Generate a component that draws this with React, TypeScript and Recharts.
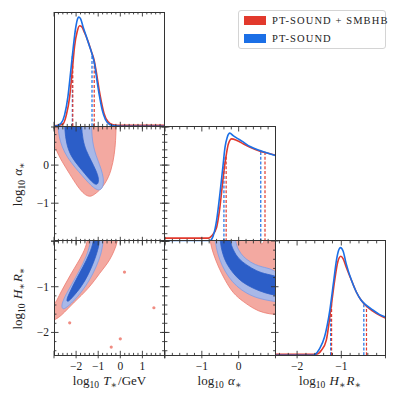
import React from 'react';
import { ComposedChart, XAxis, YAxis, Line, Scatter, ReferenceLine } from 'recharts';

type Pt = [number, number];

// axis ranges and labelled ticks
const tRange = [-3, 2];
const aRange = [-2, 1];
const hRange = [-2.5, 0];
const densRange = [0, 1];
const tLabels = [-2, -1, 0, 1];
const aLabels = [-1, 0];
const hLabels = [-2, -1];

// 1D marginals (value, density as fraction of panel height)
const tBlue: Pt[] = [[-3, 0], [-2.85, 0.005], [-2.67, 0.028], [-2.52, 0.1], [-2.37, 0.26], [-2.25, 0.47], [-2.14, 0.67], [-2.02, 0.86], [-1.92, 0.947], [-1.87, 0.956], [-1.79, 0.938], [-1.69, 0.874], [-1.54, 0.787], [-1.39, 0.699], [-1.27, 0.626], [-1.16, 0.539], [-1.06, 0.407], [-0.94, 0.261], [-0.82, 0.144], [-0.67, 0.057], [-0.48, 0.016], [-0.26, 0.004], [0, 0], [2, 0]];
const tRed: Pt[] = [[-3, 0.004], [-2.8, 0.008], [-2.59, 0.022], [-2.44, 0.1], [-2.29, 0.26], [-2.17, 0.495], [-2.07, 0.7], [-1.95, 0.83], [-1.84, 0.88], [-1.76, 0.874], [-1.61, 0.816], [-1.46, 0.743], [-1.31, 0.655], [-1.19, 0.582], [-1.09, 0.48], [-0.97, 0.334], [-0.86, 0.217], [-0.74, 0.115], [-0.56, 0.042], [-0.33, 0.014], [0, 0.008], [1, 0.008], [2, 0.008]];
const tBlueQ = [-2.17, -1.28];
const tRedQ = [-2.15, -1.18];

const aBlue: Pt[] = [[-2, 0], [-0.8, 0], [-0.73, 0.02], [-0.69, 0.048], [-0.6, 0.18], [-0.51, 0.414], [-0.43, 0.648], [-0.37, 0.823], [-0.31, 0.911], [-0.24, 0.946], [-0.15, 0.925], [-0.01, 0.896], [0.13, 0.867], [0.31, 0.829], [0.58, 0.794], [0.8, 0.77], [1, 0.75]];
const aRed: Pt[] = [[-2, 0.028], [-0.82, 0.028], [-0.73, 0.048], [-0.6, 0.121], [-0.51, 0.297], [-0.42, 0.56], [-0.34, 0.75], [-0.28, 0.852], [-0.19, 0.896], [-0.05, 0.882], [0.13, 0.852], [0.31, 0.823], [0.58, 0.788], [0.8, 0.77], [1, 0.753]];
const aBlueQ = [-0.4, 0.6];
const aRedQ = [-0.34, 0.715];

const hBlue: Pt[] = [[-2.5, 0], [-1.64, 0], [-1.6, 0.005], [-1.49, 0.058], [-1.38, 0.16], [-1.26, 0.394], [-1.17, 0.656], [-1.11, 0.831], [-1.06, 0.919], [-1.02, 0.942], [-0.96, 0.913], [-0.89, 0.802], [-0.77, 0.656], [-0.66, 0.554], [-0.55, 0.481], [-0.43, 0.437], [-0.28, 0.394], [-0.13, 0.356], [0, 0.335]];
const hRed: Pt[] = [[-2.5, 0.009], [-1.57, 0.009], [-1.45, 0.044], [-1.34, 0.131], [-1.24, 0.394], [-1.15, 0.656], [-1.08, 0.817], [-1.01, 0.866], [-0.96, 0.846], [-0.89, 0.773], [-0.77, 0.656], [-0.66, 0.554], [-0.55, 0.481], [-0.43, 0.429], [-0.28, 0.385], [-0.13, 0.35], [0, 0.327]];
const hBlueQ = [-1.24, -0.49];
const hRedQ = [-1.22, -0.43];

// 2D credible regions (outlines in data coordinates)
const taRed: Pt[] = [[-3.3, 1.3], [-0.18, 1.3], [-0.18, 1.15], [-0.19, 1.0], [-0.21, 0.65], [-0.26, 0.29], [-0.41, -0.15], [-0.64, -0.45], [-0.94, -0.67], [-1.24, -0.8], [-1.39, -0.83], [-1.61, -0.78], [-1.92, -0.58], [-2.29, -0.23], [-2.67, 0.12], [-2.89, 0.38], [-3.0, 0.56], [-3.3, 0.6]];
const taBlue95: Pt[] = [[-2.82, 1.3], [-1.31, 1.3], [-1.31, 1.05], [-1.28, 0.75], [-1.22, 0.5], [-1.1, 0.25], [-0.95, 0.03], [-0.8, -0.22], [-0.74, -0.45], [-0.82, -0.62], [-0.98, -0.67], [-1.2, -0.6], [-1.45, -0.46], [-1.72, -0.28], [-2.05, -0.06], [-2.4, 0.2], [-2.64, 0.48], [-2.77, 0.74], [-2.82, 1.0]];
const taBlue68: Pt[] = [[-2.52, 1.3], [-1.76, 1.3], [-1.76, 1.05], [-1.7, 0.66], [-1.55, 0.38], [-1.32, 0.12], [-1.1, -0.14], [-0.97, -0.35], [-1.0, -0.5], [-1.14, -0.52], [-1.4, -0.37], [-1.84, -0.06], [-2.22, 0.21], [-2.44, 0.55], [-2.52, 0.95]];

const thRed: Pt[] = [[-1.46, 0.3], [-0.1, 0.3], [-0.11, 0.0], [-0.26, -0.2], [-0.48, -0.42], [-0.71, -0.57], [-0.94, -0.71], [-1.16, -0.86], [-1.46, -1.04], [-1.76, -1.19], [-2.07, -1.33], [-2.37, -1.48], [-2.67, -1.63], [-2.92, -1.72], [-3.3, -1.78], [-3.3, -1.4], [-2.97, -1.41], [-2.77, -1.19], [-2.52, -0.97], [-2.22, -0.71], [-1.96, -0.5], [-1.69, -0.28], [-1.46, 0.0]];
const thBlue95: Pt[] = [[-1.31, 0.3], [-0.76, 0.3], [-0.76, 0.0], [-0.86, -0.28], [-1.09, -0.57], [-1.39, -0.86], [-1.76, -1.12], [-2.14, -1.33], [-2.44, -1.46], [-2.6, -1.5], [-2.68, -1.42], [-2.52, -1.22], [-2.22, -0.97], [-1.84, -0.64], [-1.54, -0.35], [-1.31, 0.0]];
const thBlue68: Pt[] = [[-1.19, 0.3], [-0.94, 0.3], [-0.94, 0.0], [-0.98, -0.13], [-1.16, -0.42], [-1.46, -0.75], [-1.76, -1.0], [-2.14, -1.22], [-2.37, -1.34], [-2.45, -1.3], [-2.29, -1.12], [-2.02, -0.86], [-1.69, -0.57], [-1.39, -0.28], [-1.19, 0.0]];
const thIslands: Pt[] = [[0.19, -0.68], [1.52, -1.46], [-2.29, -1.79], [-0.41, -2.32], [0.0, -2.14]];

const ahRed: Pt[] = [[-0.8, 0.3], [0.55, 0.3], [0.56, 0.0], [0.63, -0.1], [0.7, 0.0], [0.7, 0.3], [1.2, 0.3], [1.2, -1.62], [1.0, -1.61], [0.67, -1.575], [0.4, -1.48], [0.13, -1.33], [-0.15, -1.15], [-0.37, -0.86], [-0.55, -0.57], [-0.69, -0.28], [-0.78, -0.02]];
const ahBlue95: Pt[] = [[-0.66, 0.3], [-0.1, 0.3], [-0.1, 0.0], [-0.01, -0.2], [0.13, -0.35], [0.31, -0.46], [0.58, -0.57], [1.2, -0.65], [1.2, -1.34], [1.0, -1.33], [0.53, -1.26], [0.22, -1.15], [-0.05, -1.0], [-0.28, -0.79], [-0.46, -0.53], [-0.57, -0.28], [-0.64, -0.02]];
const ahBlue68: Pt[] = [[-0.51, 0.3], [-0.24, 0.3], [-0.24, 0.0], [-0.15, -0.2], [-0.01, -0.39], [0.22, -0.53], [0.49, -0.66], [0.76, -0.73], [1.2, -0.79], [1.2, -1.19], [1.0, -1.19], [0.72, -1.14], [0.4, -1.04], [0.08, -0.9], [-0.15, -0.71], [-0.33, -0.5], [-0.44, -0.28], [-0.51, 0.0]];

const RED = '#e2392c';
const BLUE = '#1b6fe6';
const RED_FILL = '#f3a9a1';
const RED_EDGE = '#ec7b70';
const BLUE_LIGHT = '#a8b8e8';
const BLUE_EDGE = '#7d9ce6';
const BLUE_DARK = '#2c5ec8';
const INK = '#333';
const SERIF = '"Liberation Serif", "DejaVu Serif", serif';

const X0 = 54.3;
const Y0 = 12.3;
const PW = 110.5;
const PH = 114.3;

const rows = (pts: Pt[]) => pts.map(([x, y]) => ({ x, y }));

const interp = (pts: Pt[], x: number) => {
  for (let i = 1; i < pts.length; i++) {
    const [x0, y0] = pts[i - 1];
    const [x1, y1] = pts[i];
    if (x >= x0 && x <= x1) return y0 + ((y1 - y0) * (x - x0)) / (x1 - x0);
  }
  return 0;
};

const tickList = (dom: number[]) => {
  const out: number[] = [];
  const start = Math.ceil(dom[0] * 5 - 1e-9);
  const end = Math.floor(dom[1] * 5 + 1e-9);
  for (let k = start; k <= end; k++) out.push(Math.round(k * 2) / 10);
  return out;
};

const fmt = (v: number) => (v < 0 ? '\u2212' + Math.abs(v) : String(v));

// edge = position of the plot border the ticks sit on (svg coords)
function makeTick(side: string, edge: number, labels?: number[]) {
  return (p: any) => {
    const v = p.payload.value;
    const pos = p.payload.coordinate;
    const major = Math.abs(v - Math.round(v)) < 1e-6;
    const inn = major ? 4.5 : 2.4;
    const out = major && side !== 't' ? 3 : 0;
    let c;
    if (side === 'b') c = { x1: pos, x2: pos, y1: edge + out, y2: edge - inn };
    else if (side === 't') c = { x1: pos, x2: pos, y1: edge - out, y2: edge + inn };
    else if (side === 'l') c = { x1: edge - out, x2: edge + inn, y1: pos, y2: pos };
    else c = { x1: edge + out, x2: edge - inn, y1: pos, y2: pos };
    const lab = labels && labels.some((q) => Math.abs(q - v) < 1e-6);
    return (
      <g>
        <line {...c} stroke={INK} strokeWidth={0.9} />
        {lab && side === 'b' && (
          <text x={pos} y={edge + 14.5} textAnchor="middle" fontSize={11.5} fontFamily={SERIF} fill="#222">
            {fmt(v)}
          </text>
        )}
        {lab && side === 'l' && (
          <text x={edge - 5} y={pos + 4} textAnchor="end" fontSize={11.5} fontFamily={SERIF} fill="#222">
            {fmt(v)}
          </text>
        )}
      </g>
    );
  };
}

const noShape = () => <g />;

const blob = (key: string, pts: Pt[], fill: string, edge: string) => (
  <Scatter
    key={key}
    xAxisId="d"
    yAxisId="d"
    data={rows(pts)}
    line={{ fill, stroke: edge, strokeWidth: 0.8 }}
    lineType="joint"
    lineJointType="basisClosed"
    shape={noShape}
    isAnimationActive={false}
  />
);

const curve = (key: string, pts: Pt[], color: string) => (
  <Line
    key={key}
    xAxisId="d"
    yAxisId="d"
    data={rows(pts)}
    dataKey="y"
    type="monotone"
    stroke={color}
    strokeWidth={1.6}
    dot={false}
    isAnimationActive={false}
  />
);

const quantiles = (key: string, qs: number[], pts: Pt[], color: string) =>
  qs.map((q, i) => (
    <ReferenceLine
      key={key + i}
      xAxisId="d"
      yAxisId="d"
      segment={[{ x: q, y: 0 }, { x: q, y: interp(pts, q) }]}
      stroke={color}
      strokeWidth={1.2}
      strokeDasharray="3 1.8"
    />
  ));

type PanelProps = {
  col: number;
  row: number;
  xDom: number[];
  yDom: number[];
  tickYDom?: number[];
  sides: string;
  xLab?: number[];
  yLab?: number[];
  series: React.ReactNode[];
};

function Panel({ col, row, xDom, yDom, tickYDom, sides, xLab, yLab, series }: PanelProps) {
  const pad = 6;
  const padL = yLab ? 34 : pad;
  const padB = xLab ? 22 : pad;
  const yTickDom = tickYDom || yDom;
  const xt = tickList(xDom);
  const yt = tickList(yTickDom);
  const has = (s: string) => sides.includes(s);
  // tick axes are 1px thick, so the margins give that pixel back
  const margin = {
    top: pad - (has('t') ? 1 : 0),
    bottom: padB - (has('b') ? 1 : 0),
    left: padL - (has('l') ? 1 : 0),
    right: pad - (has('r') ? 1 : 0),
  };
  // x tick axes need chart-level data to build their ticks
  const span = rows([[xDom[0], yDom[0]], [xDom[1], yDom[0]]]);
  const common = { type: 'number' as const, allowDataOverflow: true, tickLine: false, axisLine: false, tickSize: 0, tickMargin: 0, interval: 0 as const };
  return (
    <div style={{ position: 'absolute', left: X0 + col * PW - padL, top: Y0 + row * PH - pad }}>
      <ComposedChart width={PW + padL + pad} height={PH + pad + padB} margin={margin} data={span}>
        <XAxis xAxisId="d" dataKey="x" type="number" domain={xDom} allowDataOverflow hide />
        <YAxis yAxisId="d" dataKey="y" type="number" domain={yDom} allowDataOverflow hide />
        {has('b') && <XAxis xAxisId="tb" dataKey="x" orientation="bottom" domain={xDom} ticks={xt} height={1} tick={makeTick('b', pad + PH, xLab)} {...common} />}
        {has('t') && <XAxis xAxisId="tt" dataKey="x" orientation="top" domain={xDom} ticks={xt} height={1} tick={makeTick('t', pad)} {...common} />}
        {has('l') && <YAxis yAxisId="tl" orientation="left" domain={yTickDom} ticks={yt} width={1} tick={makeTick('l', padL, yLab)} {...common} />}
        {has('r') && <YAxis yAxisId="tr" orientation="right" domain={yTickDom} ticks={yt} width={1} tick={makeTick('r', padL + PW)} {...common} />}
        {series}
      </ComposedChart>
      <div
        style={{
          position: 'absolute',
          left: padL - 0.5,
          top: pad - 0.5,
          width: PW + 1,
          height: PH + 1,
          border: `1px solid ${INK}`,
          boxSizing: 'border-box',
          pointerEvents: 'none',
        }}
      />
    </div>
  );
}

// axis titles: log10 X* with subscripts
const SubT = ({ children }: { children: React.ReactNode }) => (
  <>
    <tspan fontSize={9.5} dy={3}>{children}</tspan>
    <tspan dy={-3}>{'\u200a'}</tspan>
  </>
);

const titleT = (
  <>
    log<SubT>10</SubT> <tspan fontStyle="italic">T</tspan><SubT>∗</SubT>/GeV
  </>
);
const titleA = (
  <>
    log<SubT>10</SubT> <tspan fontStyle="italic">α</tspan><SubT>∗</SubT>
  </>
);
const titleH = (
  <>
    log<SubT>10</SubT> <tspan fontStyle="italic">H</tspan><SubT>∗</SubT><tspan fontStyle="italic">R</tspan><SubT>∗</SubT>
  </>
);

export default function App() {
  const yT = (row: number) => Y0 + row * PH + PH / 2;
  return (
    <div style={{ position: 'absolute', left: 0, top: 0, width: 398, height: 400, background: '#fff', fontFamily: SERIF }}>
      <Panel
        col={0}
        row={0}
        xDom={tRange}
        yDom={densRange}
        sides="tb"
        series={[
          ...quantiles('tbq', tBlueQ, tBlue, BLUE),
          ...quantiles('trq', tRedQ, tRed, RED),
          curve('tr', tRed, RED),
          curve('tb', tBlue, BLUE),
        ]}
      />
      <Panel
        col={0}
        row={1}
        xDom={tRange}
        yDom={aRange}
        sides="tblr"
        yLab={aLabels}
        series={[
          blob('r', taRed, RED_FILL, RED_EDGE),
          blob('b95', taBlue95, BLUE_LIGHT, BLUE_EDGE),
          blob('b68', taBlue68, BLUE_DARK, BLUE_DARK),
        ]}
      />
      <Panel
        col={1}
        row={1}
        xDom={aRange}
        yDom={densRange}
        tickYDom={aRange}
        sides="tbl"
        series={[
          ...quantiles('abq', aBlueQ, aBlue, BLUE),
          ...quantiles('arq', aRedQ, aRed, RED),
          curve('ar', aRed, RED),
          curve('ab', aBlue, BLUE),
        ]}
      />
      <Panel
        col={0}
        row={2}
        xDom={tRange}
        yDom={hRange}
        sides="tblr"
        xLab={tLabels}
        yLab={hLabels}
        series={[
          blob('r', thRed, RED_FILL, RED_EDGE),
          blob('b95', thBlue95, BLUE_LIGHT, BLUE_EDGE),
          blob('b68', thBlue68, BLUE_DARK, BLUE_DARK),
          <Scatter
            key="isl"
            xAxisId="d"
            yAxisId="d"
            data={rows(thIslands)}
            shape={(p: any) => <circle cx={p.cx} cy={p.cy} r={1.6} fill="#f08c82" />}
            isAnimationActive={false}
          />,
        ]}
      />
      <Panel
        col={1}
        row={2}
        xDom={aRange}
        yDom={hRange}
        sides="tblr"
        xLab={aLabels}
        series={[
          blob('r', ahRed, RED_FILL, RED_EDGE),
          blob('b95', ahBlue95, BLUE_LIGHT, BLUE_EDGE),
          blob('b68', ahBlue68, BLUE_DARK, BLUE_DARK),
        ]}
      />
      <Panel
        col={2}
        row={2}
        xDom={hRange}
        yDom={densRange}
        sides="tb"
        xLab={hLabels}
        series={[
          ...quantiles('hbq', hBlueQ, hBlue, BLUE),
          ...quantiles('hrq', hRedQ, hRed, RED),
          curve('hr', hRed, RED),
          curve('hb', hBlue, BLUE),
        ]}
      />

      <svg width={398} height={400} style={{ position: 'absolute', left: 0, top: 0, pointerEvents: 'none' }}>
        <g fontFamily={SERIF} fontSize={13} fill="#222" textAnchor="middle">
          <text x={X0 + PW / 2} y={385}>{titleT}</text>
          <text x={X0 + PW * 1.5} y={385}>{titleA}</text>
          <text x={X0 + PW * 2.5} y={385}>{titleH}</text>
          <text x={22} y={yT(1)} transform={`rotate(-90 22 ${yT(1)})`}>{titleA}</text>
          <text x={22} y={yT(2)} transform={`rotate(-90 22 ${yT(2)})`}>{titleH}</text>
        </g>
      </svg>

      <div
        style={{
          position: 'absolute',
          left: 238,
          top: 10,
          width: 148,
          height: 39,
          border: '1px solid #d4d4d4',
          borderRadius: 3,
          background: 'rgba(255,255,255,0.85)',
          boxSizing: 'border-box',
          fontFamily: SERIF,
          fontSize: 10.5,
          letterSpacing: 1.1,
          color: '#222',
        }}
      >
        {[
          { label: 'PT-SOUND + SMBHB', color: RED },
          { label: 'PT-SOUND', color: BLUE },
        ].map((it, i) => (
          <div key={it.label} style={{ position: 'absolute', left: 5, top: 4 + i * 18, height: 11, display: 'flex', alignItems: 'center' }}>
            <span style={{ display: 'inline-block', width: 22, height: 9, background: it.color, marginRight: 6 }} />
            <span style={{ whiteSpace: 'nowrap' }}>{it.label}</span>
          </div>
        ))}
      </div>
    </div>
  );
}
